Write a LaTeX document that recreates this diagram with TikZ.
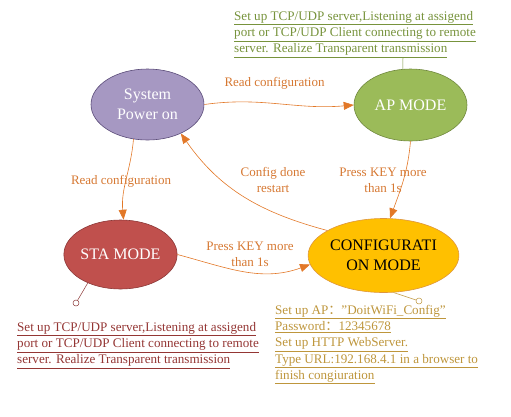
\documentclass[tikz,border=0pt]{standalone}
\usepackage{fontspec}
\setmainfont{Liberation Serif}
\newfontfamily\cjk{Noto Sans CJK SC}
\usetikzlibrary{arrows.meta}
\definecolor{pfill}{RGB}{166,152,194}
\definecolor{pdraw}{RGB}{90,75,120}
\definecolor{gfill}{RGB}{155,187,89}
\definecolor{gdraw}{RGB}{113,137,63}
\definecolor{rfill}{RGB}{192,80,77}
\definecolor{rdraw}{RGB}{140,56,55}
\definecolor{yfill}{RGB}{255,192,0}
\definecolor{ydraw}{RGB}{222,150,60}
\definecolor{edgec}{RGB}{226,120,40}
\definecolor{lblc}{RGB}{214,120,50}
\definecolor{gnote}{RGB}{119,147,60}
\definecolor{rnote}{RGB}{148,54,52}
\definecolor{ynote}{RGB}{190,150,60}
\tikzset{
  state/.style={ellipse, draw, line width=0.6pt, minimum width=113pt, minimum height=71pt, inner sep=0pt, align=center, font=\fontsize{16}{20}\selectfont},
  conn/.style={draw=edgec, line width=0.6pt, -{Triangle[length=10pt,width=8pt]}},
  elabel/.style={text=lblc, align=center, font=\fontsize{13}{16}\selectfont, inner sep=0pt},
  note/.style={align=left, anchor=north west, inner sep=0pt, font=\fontsize{13.1}{16.2}\selectfont},
  pin/.style={line width=0.5pt}
}
\usetikzlibrary{shapes.geometric}
\begin{document}
\begin{tikzpicture}[x=1pt,y=1pt]
\useasboundingbox (0,0) rectangle (511,-416);
\node[state, fill=pfill, draw=pdraw, text=white] (pow) at (147.5,-104.5) {System\\Power on};
\node[state, fill=gfill, draw=gdraw, text=white, minimum height=72pt] (ap) at (410.5,-105) {AP MODE};
\node[state, fill=rfill, draw=rdraw, text=white, minimum height=69pt] (sta) at (120.5,-254.5) {STA MODE};
\node[state, fill=yfill, draw=ydraw, text=black, minimum width=125pt, minimum height=74pt] (conf) at (383.5,-255.5) {CONFIGURATI\\ON MODE};

\draw[conn] (pow.east) to[out=8,in=185] (ap.west);
\draw[conn] (pow.248) to[out=-95,in=95] (sta.85);
\draw[conn] (ap.south) to[out=-95,in=70] (conf.80);
\draw[conn] (sta.east) to[out=-15,in=200] (conf.187);
\draw[conn] (conf.156) to[out=165,in=-55] (pow.-41);

\node[elabel] (l1) at (274.5,-83) {Read configuration};
\node[elabel] (l2) at (121,-181) {Read configuration};
\node[elabel] (l3) at (383,-180) {Press KEY more\\than 1s};
\node[elabel] (l4) at (250,-254) {Press KEY more\\than 1s};
\node[elabel] (l5) at (273,-180) {Config done\\restart};

\node[note, text=gnote] (n1) at (234,-11) {\underline{Set up TCP/UDP server,Listening at assigend}\\\underline{port or TCP/UDP Client connecting to remote}\\\underline{server. Realize Transparent transmission}};
\coordinate (n1p) at (403,-58);
\draw[pin, draw=gnote] (n1p) -- (ap.102);

\node[note, text=rnote] (n2) at (17,-322) {\underline{Set up TCP/UDP server,Listening at assigend}\\\underline{port or TCP/UDP Client connecting to remote}\\\underline{server. Realize Transparent transmission}};
\coordinate (n2p) at (76,-303);
\draw[pin, draw=rdraw] (sta.221) -- (n2p);
\draw[pin, draw=rdraw, fill=white] (n2p) circle (3pt);

\node[note, text=ynote] (n3) at (275,-305) {\underline{Set up AP{\cjk ：}”DoitWiFi\_Config”}\\\underline{Password{\cjk ：}12345678}\\\underline{Set up HTTP WebServer.}\\\underline{Type URL:192.168.4.1 in a browser to}\\\underline{finish congiuration}};
\coordinate (n3p) at (419,-301);
\draw[pin, draw=ynote] (conf.285) -- (n3p);
\draw[pin, draw=ynote, fill=white] (n3p) circle (3pt);
\end{tikzpicture}
\end{document}
